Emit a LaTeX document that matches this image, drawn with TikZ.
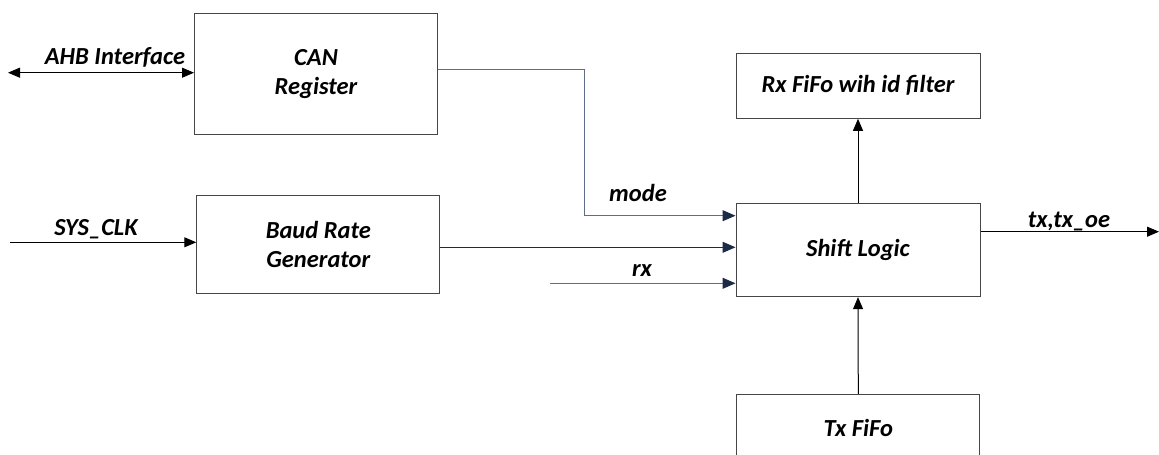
\documentclass[tikz,border=0pt]{standalone}
\usepackage{fontspec}
\setmainfont{Carlito}
\usetikzlibrary{arrows.meta}
\definecolor{navy}{RGB}{28,42,72}
\definecolor{slate}{RGB}{95,110,135}
\definecolor{boxgray}{RGB}{70,70,70}
\tikzset{
  blk/.style={draw=boxgray, line width=1pt, align=center, inner sep=0pt,
    font=\fontsize{24.5}{29}\selectfont\bfseries\itshape},
  lbl/.style={anchor=base, inner sep=0pt, font=\fontsize{24.5}{29}\selectfont\bfseries\itshape},
  tip/.style={-{Triangle[length=12pt,width=10pt]}},
  ntip/.style={-{Triangle[length=13pt,width=11pt,color=navy]}},
}
\begin{document}
\begin{tikzpicture}[x=1pt,y=-1pt]
\useasboundingbox (0,0) rectangle (1159,455);
\clip (0,0) rectangle (1159,455);
% blocks
\node[blk, minimum width=243pt, minimum height=121pt] (can) at (316,73.7) {CAN\\Register};
\node[blk, minimum width=243pt, minimum height=97.6pt] (baud) at (318.3,244.5) {Baud Rate\\Generator};
\node[blk, minimum width=244pt, minimum height=65pt] (rxf) at (858,85.8) {Rx FiFo wih id filter};
\node[blk, minimum width=244pt, minimum height=92.7pt] (shift) at (858,250.3) {Shift Logic};
\node[blk, minimum width=243.3pt, minimum height=68pt] (txf) at (858.3,428.3) {Tx FiFo};
% free ends
\coordinate (ahbL) at (8,72.7);
\coordinate (sysL) at (10,242.3);
\coordinate (bend) at (584.3,69);
\coordinate (modeY) at (584.3,215.7);
\coordinate (baudY) at (600,247.3);
\coordinate (rxL) at (550,283.3);
\coordinate (txR) at (1159,231.7);
% connectors
\draw[line width=1pt, {Triangle[length=12pt,width=10pt]}-{Triangle[length=12pt,width=10pt]}] (ahbL) -- (can.west |- ahbL);
\draw[line width=1pt, tip] (sysL) -- (baud.west |- sysL);
\draw[line width=1pt, slate, ntip] (can.east |- bend) -- (bend) -- (modeY) -- (shift.west |- modeY);
\draw[line width=1pt, navy, ntip] (baud.east |- baudY) -- (shift.west |- baudY);
\draw[line width=1pt, slate, ntip] (rxL) -- (shift.west |- rxL);
\draw[line width=1pt, tip] (shift.north) -- (rxf.south);
\draw[line width=1pt, tip] (txf.north) -- (shift.south);
\draw[line width=1pt, tip] (shift.east |- txR) -- (txR);
% labels
\node[lbl] (ahb) at (115,64) {AHB Interface};
\node[lbl] (sys) at (96,235) {SYS\_CLK};
\node[lbl] (mode) at (638,201) {mode};
\node[lbl] (rx) at (642,276) {rx};
\node[lbl] (tx) at (1069,227) {tx,tx\_oe};
\end{tikzpicture}
\end{document}
